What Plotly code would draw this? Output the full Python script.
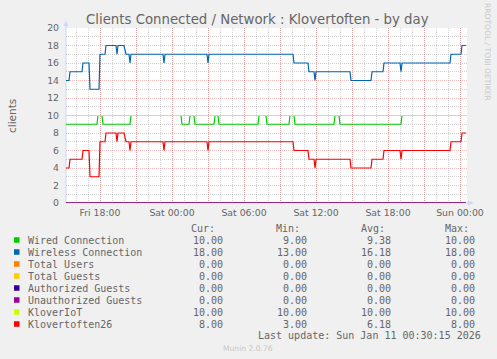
import plotly.graph_objects as go

# ---------------- data ----------------
wireless_times = [
    "2026-01-09 15:10", "2026-01-09 15:25", "2026-01-09 15:30", "2026-01-09 16:30",
    "2026-01-09 16:35", "2026-01-09 17:05", "2026-01-09 17:10", "2026-01-09 17:55",
    "2026-01-09 18:00", "2026-01-09 18:25", "2026-01-09 18:30", "2026-01-09 19:20",
    "2026-01-09 19:25", "2026-01-09 19:30", "2026-01-09 20:00", "2026-01-09 20:10",
    "2026-01-09 20:25", "2026-01-09 20:30", "2026-01-09 20:35", "2026-01-09 23:15",
    "2026-01-09 23:20", "2026-01-09 23:25", "2026-01-10 02:55", "2026-01-10 03:00",
    "2026-01-10 03:05", "2026-01-10 10:05", "2026-01-10 10:10", "2026-01-10 11:20",
    "2026-01-10 11:25", "2026-01-10 11:50", "2026-01-10 11:55", "2026-01-10 12:00",
    "2026-01-10 14:50", "2026-01-10 14:55", "2026-01-10 16:35", "2026-01-10 16:40",
    "2026-01-10 17:35", "2026-01-10 17:40", "2026-01-10 19:00", "2026-01-10 19:05",
    "2026-01-10 19:10", "2026-01-10 23:10", "2026-01-10 23:15", "2026-01-11 00:05",
    "2026-01-11 00:10", "2026-01-11 00:30",
]
wireless_values = [
    14, 14, 15, 15,
    16, 16, 13, 13,
    17, 17, 18, 18,
    17, 18, 18, 17,
    17, 16, 17, 17,
    16, 17, 17, 16,
    17, 17, 16, 16,
    15, 15, 14, 15,
    15, 14, 14, 15,
    15, 16, 16, 15,
    16, 16, 17, 17,
    18, 18,
]
klovertoften26_values = [
    4, 4, 5, 5,
    6, 6, 3, 3,
    7, 7, 8, 8,
    7, 8, 8, 7,
    7, 6, 7, 7,
    6, 7, 7, 6,
    7, 7, 6, 6,
    5, 5, 4, 5,
    5, 4, 4, 5,
    5, 6, 6, 5,
    6, 6, 7, 7,
    8, 8,
]
wired_times = [
    "2026-01-09 15:10", "2026-01-09 17:45", "2026-01-09 17:50", "2026-01-09 18:10",
    "2026-01-09 18:15", "2026-01-09 20:30", "2026-01-09 20:35", "2026-01-10 00:45",
    "2026-01-10 00:50", "2026-01-10 01:25", "2026-01-10 01:30", "2026-01-10 01:50",
    "2026-01-10 01:55", "2026-01-10 03:30", "2026-01-10 03:35", "2026-01-10 03:50",
    "2026-01-10 03:55", "2026-01-10 07:10", "2026-01-10 07:15", "2026-01-10 07:50",
    "2026-01-10 07:55", "2026-01-10 09:45", "2026-01-10 09:50", "2026-01-10 10:10",
    "2026-01-10 10:15", "2026-01-10 13:30", "2026-01-10 13:35", "2026-01-10 13:55",
    "2026-01-10 14:00", "2026-01-10 19:05", "2026-01-10 19:10", "2026-01-11 00:30",
]
wired_values = [
    9, 9, 10, 10,
    9, 9, 10, 10,
    9, 9, 10, 10,
    9, 9, 10, 10,
    9, 9, 10, 10,
    9, 9, 10, 10,
    9, 9, 10, 10,
    9, 9, 10, 10,
]
flat_times = ["2026-01-09 15:10", "2026-01-11 00:30"]
total_users_values = [0, 0]
total_guests_values = [0, 0]
authorized_values = [0, 0]
unauthorized_values = [0, 0]
kloveriot_values = [10, 10]

names = ["Wired Connection", "Wireless Connection", "Total Users", "Total Guests",
         "Authorized Guests", "Unauthorized Guests", "KloverIoT", "Klovertoften26"]
colors = ["#00CC00", "#0066B3", "#FF8000", "#FFCC00",
          "#330099", "#990099", "#CCFF00", "#FF0000"]
cur_vals = ["10.00", "18.00", "0.00", "0.00", "0.00", "0.00", "10.00", "8.00"]
min_vals = ["9.00", "13.00", "0.00", "0.00", "0.00", "0.00", "10.00", "3.00"]
avg_vals = ["9.38", "16.18", "0.00", "0.00", "0.00", "0.00", "10.00", "6.18"]
max_vals = ["10.00", "18.00", "0.00", "0.00", "0.00", "0.00", "10.00", "8.00"]

x_tick_vals = ["2026-01-09 18:00", "2026-01-09 21:00", "2026-01-10 00:00", "2026-01-10 03:00",
               "2026-01-10 06:00", "2026-01-10 09:00", "2026-01-10 12:00", "2026-01-10 15:00",
               "2026-01-10 18:00", "2026-01-10 21:00", "2026-01-11 00:00"]
x_tick_text = ["Fri 18:00", "", "Sat 00:00", "", "Sat 06:00", "", "Sat 12:00", "",
               "Sat 18:00", "", "Sun 00:00"]
y_tick_vals = [0, 2, 4, 6, 8, 10, 12, 14, 16, 18, 20]

title_text = "Clients Connected / Network : Klovertoften - by day"
last_update = "Last update: Sun Jan 11 00:30:15 2026"

# ---------------- layout helpers ----------------
W, H = 497, 359
PL, PR, PT, PB = 66, 467, 28, 203


def px(x):
    return (x - PL) / (PR - PL)


def py(y):
    return (PB - y) / (PB - PT)


FONT = "DejaVu Sans"
MONO = "DejaVu Sans Mono"
GREY = "#666666"
AXIS_C = "#CFD6F8"

series = [
    (wired_times, wired_values),
    (wireless_times, wireless_values),
    (flat_times, total_users_values),
    (flat_times, total_guests_values),
    (flat_times, authorized_values),
    (flat_times, unauthorized_values),
    (flat_times, kloveriot_values),
    (wireless_times, klovertoften26_values),
]

fig = go.Figure()
for (t, v), name, col in zip(series, names, colors):
    fig.add_trace(go.Scatter(x=t, y=v, mode="lines", name=name,
                             line=dict(color=col, width=1.2), showlegend=False))

shapes = []
shapes.append(dict(type="line", xref="paper", yref="paper", x0=px(66), x1=px(66),
                   y0=py(203), y1=py(23), line=dict(color=AXIS_C, width=1), layer="between"))
shapes.append(dict(type="line", xref="paper", yref="paper", x0=px(66), x1=px(470),
                   y0=py(203), y1=py(203), line=dict(color=AXIS_C, width=1), layer="between"))
shapes.append(dict(type="path", xref="paper", yref="paper",
                   path=f"M {px(63.5)} {py(26)} L {px(68.5)} {py(26)} L {px(66)} {py(20.5)} Z",
                   fillcolor=AXIS_C, line=dict(width=0)))
shapes.append(dict(type="path", xref="paper", yref="paper",
                   path=f"M {px(468)} {py(200.5)} L {px(468)} {py(205.5)} L {px(473.5)} {py(203)} Z",
                   fillcolor=AXIS_C, line=dict(width=0)))


def ann(text, x, y, size, color=GREY, family=FONT, xanchor="center", angle=0):
    return dict(text=text, x=px(x), y=py(y), xref="paper", yref="paper",
                xanchor=xanchor, yanchor="middle", showarrow=False, textangle=angle,
                font=dict(family=family, size=size, color=color))


annotations = [
    ann(title_text, 257, 19, 13.3),
    ann("clients", 12, 116, 10.5, angle=-90),
    ann("RRDTOOL / TOBI OETIKER", 488, 52, 7.6, color="#C8C8C8", angle=90),
]

hdr_y = 228.5
for label, xr in [("Cur:", 217), ("Min:", 302), ("Avg:", 386.5), ("Max:", 470.5)]:
    annotations.append(ann(label, xr, hdr_y, 10, family=MONO, xanchor="right"))

row0, dy = 240, 12
for i, (name, col) in enumerate(zip(names, colors)):
    yy = row0 + i * dy
    shapes.append(dict(type="rect", xref="paper", yref="paper",
                       x0=px(14), x1=px(19.5), y0=py(yy - 2.75), y1=py(yy + 2.75),
                       fillcolor=col, line=dict(width=0)))
    annotations.append(ann(name, 26, yy, 10, family=MONO, xanchor="left"))
    for vals, xr in [(cur_vals, 224.5), (min_vals, 308.5), (avg_vals, 392.5), (max_vals, 476.5)]:
        annotations.append(ann(vals[i], xr, yy, 10, family=MONO, xanchor="right"))

annotations.append(ann(last_update, 483, 335.5, 10, family=MONO, xanchor="right"))
annotations.append(ann("Munin 2.0.76", 248, 348.5, 7.6, color="#C8C8C8"))

MAJ = "rgba(230,80,80,0.38)"
MIN = "rgba(140,140,140,0.38)"
DASH = "1px,1px"

fig.update_layout(
    width=W, height=H,
    margin=dict(l=PL, r=W - PR, t=PT, b=H - PB, pad=0),
    paper_bgcolor="#F0F0F0", plot_bgcolor="#FFFFFF",
    showlegend=False,
    shapes=shapes, annotations=annotations,
    xaxis=dict(
        type="date", range=["2026-01-09 15:10", "2026-01-11 00:35"],
        tickmode="array", tickvals=x_tick_vals, ticktext=x_tick_text,
        showgrid=True, gridcolor=MAJ, griddash=DASH, gridwidth=1,
        zeroline=False, showline=False, ticks="",
        ticklabelstandoff=3, automargin=False,
        tickfont=dict(family=FONT, size=9.33, color=GREY),
        minor=dict(tickmode="linear", tick0="2026-01-09 00:00", dtick=3600000,
                   showgrid=True, gridcolor=MIN, griddash=DASH, gridwidth=1, ticks=""),
        fixedrange=True,
    ),
    yaxis=dict(
        range=[0, 20], tickmode="array", tickvals=y_tick_vals,
        showgrid=True, gridcolor=MAJ, griddash=DASH, gridwidth=1,
        zeroline=False, showline=False, ticks="",
        ticklabelstandoff=6, automargin=False,
        tickfont=dict(family=FONT, size=9.33, color=GREY),
        minor=dict(tickmode="linear", tick0=1, dtick=2,
                   showgrid=True, gridcolor=MIN, griddash=DASH, gridwidth=1, ticks=""),
        fixedrange=True,
    ),
)

fig.write_html("out.html", config={"displayModeBar": False},
               post_script="document.body.style.margin='0';document.body.style.background='#F0F0F0';")
